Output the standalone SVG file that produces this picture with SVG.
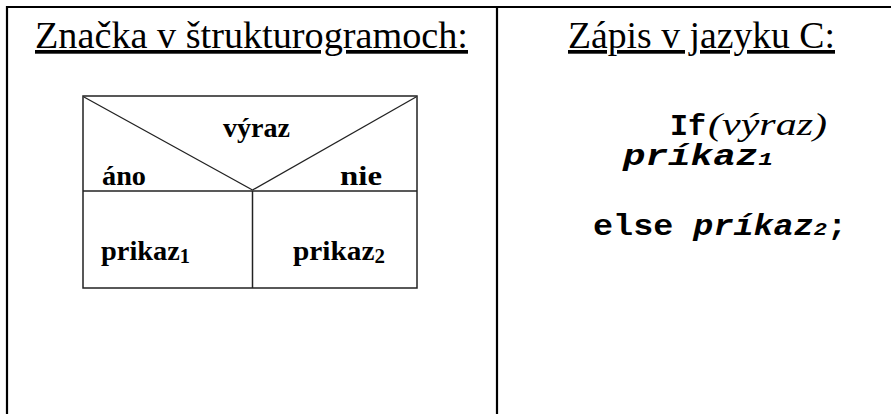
<svg xmlns="http://www.w3.org/2000/svg" width="891" height="414" viewBox="0 0 891 414">
<style>
.frame{stroke:#000;stroke-width:2.2;fill:none}
.box{stroke:#222;stroke-width:1.5;fill:none}
.diag{stroke:#222;stroke-width:1.3;fill:none}
.title{font-family:"Liberation Serif",serif;font-size:37px;fill:#000;text-decoration:underline}
.lbl{font-family:"Liberation Serif",serif;font-size:28px;font-weight:bold;fill:#000}
.sub{font-size:20px}
.code{font-family:"Liberation Mono",monospace;font-size:29px;font-weight:bold;fill:#000}
.it{font-style:italic}
.csub{font-size:19px}
.ser{font-family:"Liberation Serif",serif;font-size:32px;font-weight:normal;font-style:italic;fill:#000}
</style>
<rect width="891" height="414" fill="#fff"/>
<g id="table">
<line class="frame" x1="6" y1="7" x2="891" y2="7"/>
<line class="frame" x1="7" y1="6" x2="7" y2="414"/>
<line class="frame" x1="497" y1="6" x2="497" y2="414"/>
</g>
<g id="header-left"><text class="title" x="35" y="48" textLength="433" lengthAdjust="spacingAndGlyphs">Značka v štrukturogramoch:</text></g>
<g id="header-right"><text class="title" x="568" y="48" textLength="267" lengthAdjust="spacingAndGlyphs">Zápis v jazyku C:</text></g>
<g id="structogram">
<rect class="box" x="83" y="96" width="334" height="192"/>
<line class="box" x1="83" y1="191" x2="417" y2="191"/>
<line class="box" x1="252.5" y1="191" x2="252.5" y2="288"/>
<line class="diag" x1="84" y1="97" x2="252.5" y2="190"/>
<line class="diag" x1="416" y1="97" x2="252.5" y2="190"/>
</g>
<g id="cond"><text class="lbl" x="223" y="137" textLength="67" lengthAdjust="spacingAndGlyphs">výraz</text></g>
<g id="yes"><text class="lbl" x="102" y="185" textLength="44" lengthAdjust="spacingAndGlyphs">áno</text></g>
<g id="no"><text class="lbl" x="340" y="185" textLength="42" lengthAdjust="spacingAndGlyphs">nie</text></g>
<g id="then"><text class="lbl" x="101" y="260" textLength="89" lengthAdjust="spacingAndGlyphs">prikaz<tspan class="sub" dy="3">1</tspan></text></g>
<g id="else"><text class="lbl" x="293" y="260" textLength="92" lengthAdjust="spacingAndGlyphs">prikaz<tspan class="sub" dy="3">2</tspan></text></g>
<g id="code">
<text class="code" x="670" y="135" textLength="36" lengthAdjust="spacingAndGlyphs">If</text>
<text class="ser" x="708" y="135" textLength="119" lengthAdjust="spacingAndGlyphs">(výraz)</text>
<text class="code it" x="623" y="165" textLength="150" lengthAdjust="spacingAndGlyphs">príkaz<tspan class="csub">1</tspan></text>
<text class="code" x="593" y="235" textLength="254" lengthAdjust="spacingAndGlyphs">else <tspan class="it">príkaz</tspan><tspan class="it csub">2</tspan>;</text>
</g>
</svg>
